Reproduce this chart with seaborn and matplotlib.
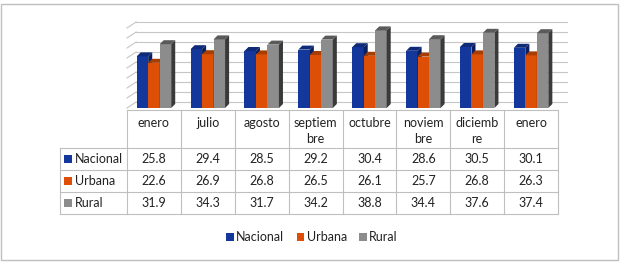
import matplotlib
matplotlib.use('Agg')
import matplotlib.pyplot as plt
from matplotlib.patches import Polygon, Rectangle
import pandas as pd
import seaborn as sns

# data
HEADER = ['enero', 'julio', 'agosto', 'septiem\nbre', 'octubre',
          'noviem\nbre', 'diciemb\nre', 'enero']
SERIES = ['Nacional', 'Urbana', 'Rural']
NACIONAL = [25.8, 29.4, 28.5, 29.2, 30.4, 28.6, 30.5, 30.1]
URBANA = [22.6, 26.9, 26.8, 26.5, 26.1, 25.7, 26.8, 26.3]
RURAL = [31.9, 34.3, 31.7, 34.2, 38.8, 34.4, 37.6, 37.4]

COLORS = ['#14379C', '#DD4F06', '#8C8C8C']
SIDE = ['#0B1F5E', '#8A3000', '#3A3A3A']
TOP = ['#0E2A78', '#A83D02', '#5A5A5A']
GRID = '#C6C6C6'
TXT = '#222222'
FS = 9

plt.rcParams['font.family'] = ['Lato', 'DejaVu Sans']

values = {'Nacional': NACIONAL, 'Urbana': URBANA, 'Rural': RURAL}
df = pd.DataFrame([{'col': i, 'serie': s, 'valor': v}
                   for s in SERIES for i, v in enumerate(values[s])])

W, H = 621, 262
fig = plt.figure(figsize=(W / 100, H / 100), dpi=100)

# outer border
fig.patches.append(Rectangle((1 / W, 2 / H), 617 / W, 256 / H, transform=fig.transFigure,
                             fill=False, edgecolor='#BFBFBF', lw=1))

# pixel layer for the table
tax = fig.add_axes([0, 0, 1, 1], zorder=0)
tax.set_xlim(0, W)
tax.set_ylim(H, 0)
tax.axis('off')

# bar axes
x0, x1, ybot = 127, 558, 108
ymax = 46
ax = fig.add_axes([x0 / W, 1 - ybot / H, (x1 - x0) / W, ymax * 2 / H], zorder=1)
ax.patch.set_alpha(0)
sns.barplot(data=df, x='col', y='valor', hue='serie', order=list(range(8)),
            hue_order=SERIES, palette=COLORS, saturation=1, width=0.64,
            legend=False, ax=ax)
ax.set_xlim(-0.5, 7.5)
ax.set_ylim(0, ymax)
ax.axis('off')

# 3D back wall gridlines
wdx, wdy = 0.17, 3
for v in range(0, 45, 5):
    ax.plot([-0.5, -0.5 + wdx], [v, v + wdy], color=GRID, lw=0.8, zorder=0, clip_on=False)
    ax.plot([-0.5 + wdx, 7.5 + wdx], [v + wdy, v + wdy], color=GRID, lw=0.8, zorder=0,
            clip_on=False)

# 3D faces on bars
bdx, bdy = 0.075, 2.0
for k, cont in enumerate(ax.containers):
    for bar in cont:
        bx0 = bar.get_x()
        bx1 = bx0 + bar.get_width()
        h = bar.get_height()
        z = 2 + k
        bar.set_zorder(z)
        ax.add_patch(Polygon([(bx1, 0), (bx1 + bdx, bdy), (bx1 + bdx, h + bdy), (bx1, h)],
                             closed=True, facecolor=SIDE[k], edgecolor='none', zorder=z))
        ax.add_patch(Polygon([(bx0, h), (bx0 + bdx, h + bdy), (bx1 + bdx, h + bdy), (bx1, h)],
                             closed=True, facecolor=TOP[k], edgecolor='none', zorder=z))

# data table
cols = [x0 + (x1 - x0) * i / 8 for i in range(9)]
rows = [148, 170, 192, 214]
lc = '#BFBFBF'
tax.plot([x0, x1], [110, 110], color=lc, lw=0.8)
for y in rows:
    tax.plot([60, x1], [y, y], color=lc, lw=0.8)
for x in cols:
    tax.plot([x, x], [110, 214], color=lc, lw=0.8)
tax.plot([60, 60], [148, 214], color=lc, lw=0.8)

for i, lab in enumerate(HEADER):
    tax.text((cols[i] + cols[i + 1]) / 2, 117, lab, ha='center', va='top', fontsize=FS,
             color=TXT, linespacing=1.4)
for r, s in enumerate(SERIES):
    yc = (rows[r] + rows[r + 1]) / 2
    tax.add_patch(Rectangle((64, yc - 4), 8, 8, facecolor=COLORS[r], edgecolor='none'))
    tax.text(75, yc, s, ha='left', va='center', fontsize=FS, color=TXT)
    for i, v in enumerate(values[s]):
        tax.text((cols[i] + cols[i + 1]) / 2, yc, f'{v:.1f}', ha='center', va='center',
                 fontsize=FS, color=TXT)

# legend
handles = [Rectangle((0, 0), 1, 1, facecolor=c, edgecolor='none') for c in COLORS]
fig.legend(handles, SERIES, loc='center', bbox_to_anchor=(312 / W, 1 - 237 / H), ncol=3,
           frameon=False, fontsize=FS, handlelength=0.6, handleheight=0.6,
           handletextpad=0.2, columnspacing=1.0, labelcolor=TXT)

fig.savefig('out.png', dpi=100, facecolor='white')
